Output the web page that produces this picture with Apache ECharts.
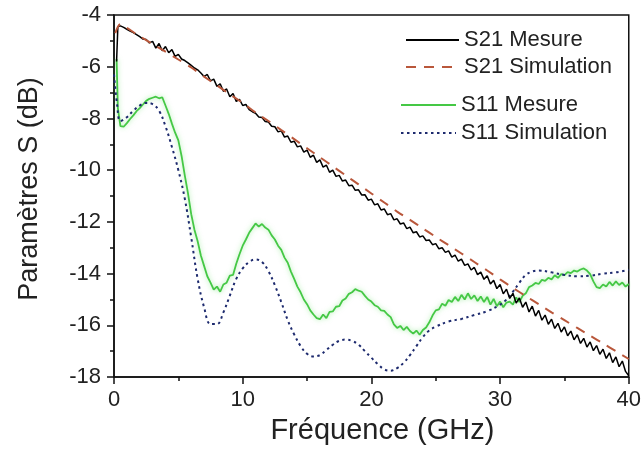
<!DOCTYPE html>
<html>
<head>
<meta charset="utf-8">
<script src="https://cdn.jsdelivr.net/npm/echarts@6/dist/echarts.min.js"></script>
<style>html,body{margin:0;padding:0;background:#fff;}#c{width:644px;height:450px;}</style>
</head>
<body>
<div id="c"></div>
<script>
// Frequency grid of the measured curves (GHz)
const freqMes = [0.2,0.3,0.5,
0.75,1,1.25,1.5,1.75,2,2.25,2.5,
2.75,3,3.25,3.5,3.75,4,4.25,4.5,
4.75,5,5.25,5.5,5.75,6,6.25,6.5,
6.75,7,7.25,7.5,7.75,8,8.25,8.5,
8.75,9,9.25,9.5,9.75,10,10.25,10.5,
10.75,11,11.25,11.5,11.75,12,12.25,12.5,
12.75,13,13.25,13.5,13.75,14,14.25,14.5,
14.75,15,15.25,15.5,15.75,16,16.25,16.5,
16.75,17,17.25,17.5,17.75,18,18.25,18.5,
18.75,19,19.25,19.5,19.75,20,20.25,20.5,
20.75,21,21.25,21.5,21.75,22,22.25,22.5,
22.75,23,23.25,23.5,23.75,24,24.25,24.5,
24.75,25,25.25,25.5,25.75,26,26.25,26.5,
26.75,27,27.25,27.5,27.75,28,28.25,28.5,
28.75,29,29.25,29.5,29.75,30,30.25,30.5,
30.75,31,31.25,31.5,31.75,32,32.25,32.5,
32.75,33,33.25,33.5,33.75,34,34.25,34.5,
34.75,35,35.25,35.5,35.75,36,36.25,36.5,
36.75,37,37.25,37.5,37.75,38,38.25,38.5,
38.75,39,39.25,39.5,39.75,40];

const s21Mes = [-5.8,-4.45,-4.42,
-4.48,-4.55,-4.62,-4.68,-4.76,-4.84,-4.93,-4.95,
-5.08,-5.02,-5.28,-5.1,-5.38,-5.22,-5.46,-5.34,
-5.6,-5.52,-5.7,-5.76,-5.85,-5.95,-6.05,-6.12,
-6.24,-6.38,-6.3,-6.55,-6.48,-6.76,-6.66,-6.95,
-6.86,-7.16,-7.04,-7.34,-7.26,-7.5,-7.46,-7.66,
-7.74,-7.8,-7.94,-7.96,-8.12,-8.14,-8.3,-8.32,
-8.52,-8.48,-8.72,-8.68,-8.92,-8.88,-9.1,-9.06,
-9.3,-9.22,-9.5,-9.42,-9.7,-9.6,-9.88,-9.8,
-10.08,-10.0,-10.24,-10.2,-10.42,-10.38,-10.6,-10.58,
-10.78,-10.76,-10.96,-10.95,-11.16,-11.12,-11.34,-11.3,
-11.54,-11.5,-11.72,-11.68,-11.92,-11.88,-12.08,-12.04,
-12.26,-12.2,-12.42,-12.38,-12.58,-12.54,-12.72,-12.7,
-12.88,-12.84,-13.04,-13.0,-13.18,-13.12,-13.36,-13.28,
-13.52,-13.44,-13.68,-13.62,-13.86,-13.76,-14.04,-13.94,
-14.22,-14.08,-14.4,-14.26,-14.58,-14.42,-14.78,-14.6,
-14.96,-14.76,-15.14,-14.94,-15.3,-15.1,-15.48,-15.26,
-15.64,-15.42,-15.8,-15.6,-15.96,-15.76,-16.12,-15.92,
-16.26,-16.06,-16.4,-16.22,-16.56,-16.36,-16.7,-16.5,
-16.84,-16.64,-16.98,-16.78,-17.12,-16.92,-17.28,-17.06,
-17.44,-17.22,-17.6,-17.38,-17.78,-17.95];

const s11Mes = [-5.7,-7.6,-8.3,
-8.32,-8.18,-8.02,-7.88,-7.72,-7.6,-7.46,-7.32,
-7.24,-7.2,-7.16,-7.22,-7.18,-7.5,-7.82,-8.2,
-8.55,-8.85,-9.45,-10.2,-10.9,-11.7,-12.3,-12.75,
-13.3,-13.7,-14.1,-14.35,-14.62,-14.5,-14.7,-14.42,
-14.35,-14.08,-14.05,-13.62,-13.25,-12.92,-12.68,-12.42,
-12.24,-12.06,-12.18,-12.08,-12.22,-12.3,-12.52,-12.68,
-12.92,-13.08,-13.38,-13.58,-13.92,-14.2,-14.5,-14.72,
-15.0,-15.18,-15.42,-15.58,-15.72,-15.76,-15.58,-15.72,
-15.48,-15.46,-15.28,-15.26,-15.04,-14.96,-14.78,-14.72,
-14.6,-14.66,-14.7,-14.86,-15.0,-15.08,-15.22,-15.28,
-15.42,-15.44,-15.58,-15.68,-15.96,-16.1,-16.02,-16.18,
-16.06,-16.22,-16.32,-16.2,-16.36,-16.18,-16.08,-15.88,
-15.62,-15.42,-15.38,-15.16,-15.24,-15.02,-15.1,-14.9,
-15.06,-14.82,-15.0,-14.76,-14.98,-14.84,-15.06,-14.88,
-15.1,-14.9,-15.2,-14.98,-15.26,-15.08,-15.3,-15.12,
-15.08,-15.2,-14.92,-15.1,-14.86,-14.76,-14.52,-14.46,
-14.36,-14.4,-14.24,-14.28,-14.16,-14.22,-14.06,-14.16,
-14.02,-14.06,-13.94,-13.98,-13.88,-13.92,-13.84,-13.8,
-13.88,-14.02,-14.3,-14.52,-14.56,-14.42,-14.5,-14.32,
-14.46,-14.3,-14.44,-14.34,-14.5,-14.4];

const freqSim21 = [0.1,0.5,1,2,3,4,5,6,7,8,9,10,11,12,13,14,15,16,17,18,19,20,21,22,23,24,25,26,27,28,29,30,31,32,33,34,35,36,37,38,39,40];
const s21Sim = [-4.7,-4.35,-4.5,-4.82,-5.12,-5.42,-5.72,-6.03,-6.38,-6.72,-7.07,-7.4,-7.77,-8.1,-8.45,-8.8,-9.15,-9.5,-9.85,-10.2,-10.55,-10.9,-11.25,-11.6,-11.92,-12.25,-12.58,-12.9,-13.22,-13.55,-13.88,-14.22,-14.55,-14.87,-15.18,-15.5,-15.8,-16.1,-16.4,-16.7,-17.0,-17.3];

const freqSim11 = [0,0.25,0.5,1,1.5,2,2.5,3,3.5,4,4.5,5,5.5,6,6.5,7,7.5,8,8.5,9,9.5,10,10.5,11,11.5,12,12.5,13,13.5,14,14.5,15,15.5,16,16.5,17,17.5,18,18.5,19,19.5,20,20.5,21,21.5,22,22.5,23,23.5,24,24.5,25,26,27,28,29,30,30.5,31,31.5,32,32.5,33,34,35,36,37,38,39,40];
const s11Sim = [-6.3,-7.5,-8.1,-7.95,-7.7,-7.5,-7.4,-7.45,-7.7,-8.3,-9.1,-10.0,-11.1,-12.6,-14.2,-15.3,-15.95,-15.95,-15.5,-14.85,-14.2,-13.8,-13.55,-13.45,-13.55,-13.9,-14.45,-15.1,-15.8,-16.35,-16.8,-17.1,-17.2,-17.15,-16.95,-16.75,-16.6,-16.55,-16.6,-16.75,-17.0,-17.25,-17.5,-17.7,-17.75,-17.65,-17.45,-17.15,-16.8,-16.45,-16.2,-16.05,-15.85,-15.75,-15.6,-15.45,-15.2,-15.0,-14.7,-14.35,-14.05,-13.92,-13.88,-13.95,-14.05,-14.1,-14.08,-14.0,-13.95,-13.85];

const xTicks = [0,10,20,30,40];
const yTicks = [-18,-16,-14,-12,-10,-8,-6,-4];

function pairs(xs, ys){ return xs.map((x,i)=>[x, ys[i]]); }

const chart = echarts.init(document.getElementById('c'), null, {renderer:'canvas'});
const FONT = 'Liberation Sans, Arial, sans-serif';
const hiddenSymbol = {color:'transparent',borderColor:'transparent',borderWidth:0,opacity:0};
const option = {
  animation:false,
  backgroundColor:'#fff',
  grid:{left:114,right:13,top:15,bottom:67,show:true,borderColor:'#111',borderWidth:1.5,backgroundColor:'transparent'},
  legend:[
    {orient:'vertical',left:405,top:29,padding:0,itemGap:5,itemWidth:53,itemHeight:14,itemStyle:hiddenSymbol,
     textStyle:{fontFamily:FONT,fontSize:22,color:'#222'},data:['S21 Mesure','S21 Simulation']},
    {orient:'vertical',left:400,top:94,padding:0,itemGap:6,itemWidth:55,itemHeight:14,itemStyle:hiddenSymbol,
     textStyle:{fontFamily:FONT,fontSize:22,color:'#222'},data:['S11 Mesure','S11 Simulation']}
  ],
  xAxis:{type:'value',min:xTicks[0],max:xTicks[xTicks.length-1],interval:10,
    name:'Fréquence (GHz)',nameLocation:'middle',nameGap:36,
    nameTextStyle:{fontFamily:FONT,fontSize:29,color:'#222',padding:[0,0,0,22]},
    axisLine:{show:true,onZero:false,lineStyle:{color:'#111',width:1.5}},
    axisTick:{show:true,inside:false,length:7,lineStyle:{color:'#111',width:1.5}},
    minorTick:{show:true,splitNumber:2,length:4,lineStyle:{color:'#111',width:1.5}},
    axisLabel:{fontFamily:FONT,fontSize:22,color:'#222',margin:12},
    splitLine:{show:false}},
  yAxis:{type:'value',min:yTicks[0],max:yTicks[yTicks.length-1],interval:2,
    name:'Paramètres S (dB)',nameLocation:'middle',nameGap:71,nameRotate:90,
    nameTextStyle:{fontFamily:FONT,fontSize:27,color:'#222',padding:[0,0,0,14]},
    axisLine:{show:true,onZero:false,lineStyle:{color:'#111',width:1.5}},
    axisTick:{show:true,inside:false,length:7,lineStyle:{color:'#111',width:1.5}},
    minorTick:{show:true,splitNumber:2,length:4,lineStyle:{color:'#111',width:1.5}},
    axisLabel:{fontFamily:FONT,fontSize:22,color:'#222',margin:13},
    splitLine:{show:false}},
  series:[
    {name:'S11 Mesure',type:'line',data:pairs(freqMes,s11Mes),showSymbol:false,symbol:'none',
     lineStyle:{color:'#45c845',width:1.8,shadowColor:'rgba(90,220,90,0.55)',shadowBlur:5},itemStyle:{color:'#45c845'},z:2},
    {name:'S11 Simulation',type:'line',data:pairs(freqSim11,s11Sim),smooth:0.4,showSymbol:false,symbol:'none',
     lineStyle:{color:'#1d2a6e',width:2,type:[2.5,3.5]},itemStyle:{color:'#1d2a6e'},z:3},
    {name:'S21 Mesure',type:'line',data:pairs(freqMes,s21Mes),showSymbol:false,symbol:'none',
     lineStyle:{color:'#000',width:1.5},itemStyle:{color:'#000'},z:4},
    {name:'S21 Simulation',type:'line',data:pairs(freqSim21,s21Sim),smooth:0.3,showSymbol:false,symbol:'none',
     lineStyle:{color:'#b9573b',width:2,type:[10,8]},itemStyle:{color:'#b9573b'},z:5}
  ]
};
chart.setOption(option);
</script>
</body>
</html>
